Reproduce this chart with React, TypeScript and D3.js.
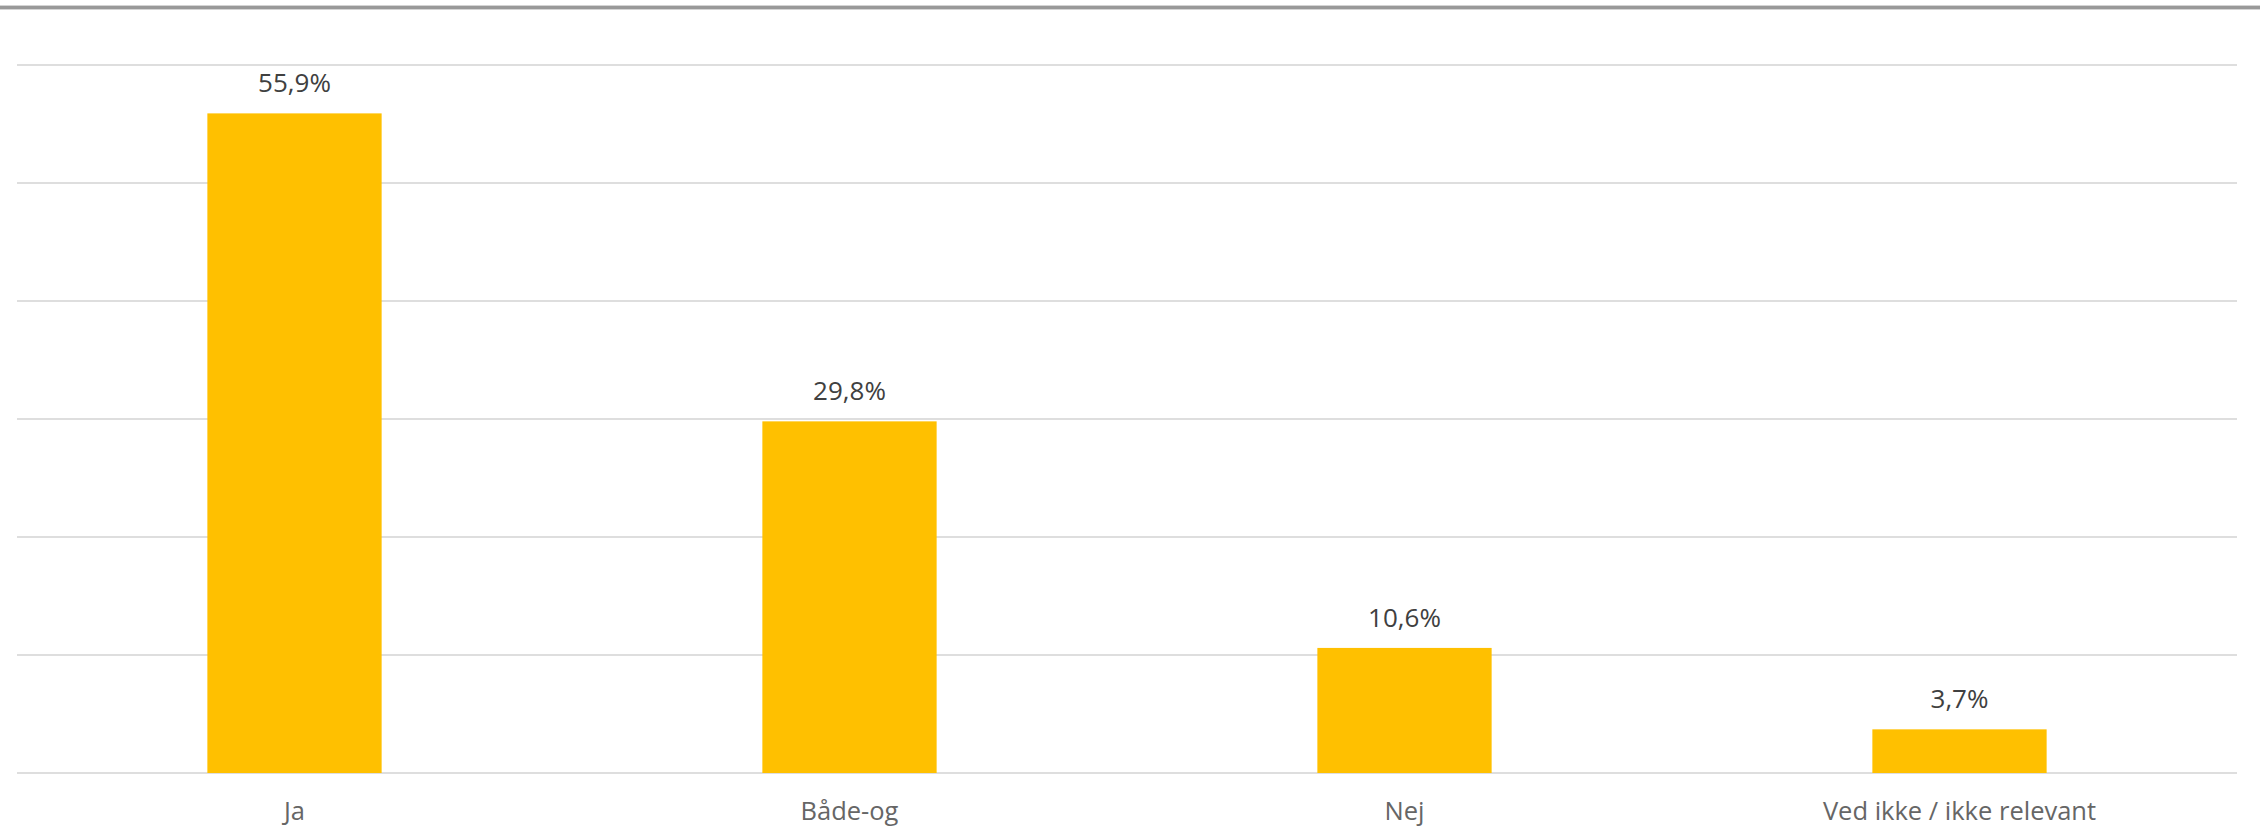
import React, {useEffect} from 'react';
import * as d3 from 'd3';

const categories = ['Ja', 'Både-og', 'Nej', 'Ved ikke / ikke relevant'];
const values = [55.9, 29.8, 10.6, 3.7];
const yTicks = [0, 10, 20, 30, 40, 50, 60];

const W = 2260;
const H = 826;
const margin = {top: 65, right: 23, bottom: 53, left: 17};

const fmt = (v: number) => v.toFixed(1).replace('.', ',') + '%';

const App: React.FC = () => {
    useEffect(() => {
        document.body.style.margin = '0';
    }, []);

    const innerW = W - margin.left - margin.right;
    const innerH = H - margin.top - margin.bottom;

    const x = d3.scaleBand<string>()
        .domain(categories)
        .range([0, innerW])
        .paddingInner(0.686)
        .paddingOuter(0.343);

    const y = d3.scaleLinear()
        .domain([0, 60])
        .range([innerH, 0]);

    const font = '"Open Sans", sans-serif';

    return (
        <svg width={W} height={H} style={{display: 'block'}}>
            <rect x={0} y={0} width={W} height={H} fill="#ffffff"/>
            {/* top border */}
            <rect x={0} y={5} width={W} height={5} fill="#d4d4d4"/>
            <rect x={0} y={6} width={W} height={3} fill="#999999"/>
            <g transform={`translate(${margin.left},${margin.top})`}>
                {/* gridlines */}
                {yTicks.map(t => (
                    <line key={t} x1={0} x2={innerW} y1={y(t)} y2={y(t)}
                          stroke="#dedede" strokeWidth={2}/>
                ))}
                {/* bars */}
                {categories.map((c, i) => (
                    <rect key={c} x={x(c)} y={y(values[i])} width={x.bandwidth()}
                          height={innerH - y(values[i])} fill="#ffc000"/>
                ))}
                {/* value labels */}
                {categories.map((c, i) => (
                    <text key={c} x={(x(c) as number) + x.bandwidth() / 2} y={y(values[i]) - 21}
                          textAnchor="middle" fontFamily={font} fontSize={26} fill="#404040">
                        {fmt(values[i])}
                    </text>
                ))}
                {/* category labels */}
                {categories.map(c => (
                    <text key={c} x={(x(c) as number) + x.bandwidth() / 2} y={innerH + 47}
                          textAnchor="middle" fontFamily={font} fontSize={25.5} fill="#666666">
                        {c}
                    </text>
                ))}
            </g>
        </svg>
    );
};

export default App;
